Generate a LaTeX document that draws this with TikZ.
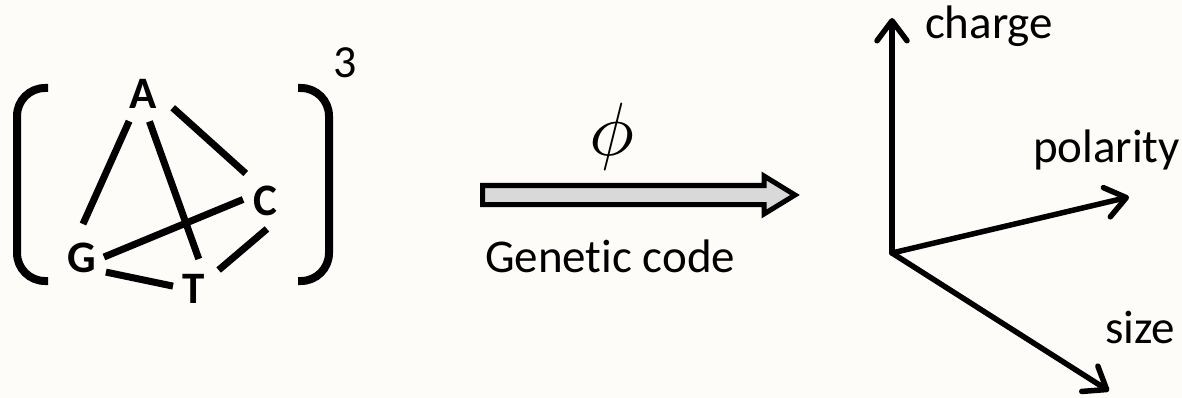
\documentclass[tikz,border=0pt]{standalone}
\usepackage{graphicx}
\usepackage{fontspec}
\setmainfont{Carlito}[Ligatures={NoCommon,NoRare,NoContextual}]
\usetikzlibrary{arrows.meta,calc}
\definecolor{bg}{RGB}{254,252,248}
\definecolor{arrowfill}{RGB}{217,217,217}
\begin{document}
\begin{tikzpicture}[x=1pt,y=1pt,
  lbl/.style={font=\fontsize{47}{56}\selectfont, inner sep=0pt, outer sep=0pt},
  letter/.style={font=\fontsize{45}{52}\selectfont\bfseries, inner sep=0pt},
  edge/.style={line width=7pt},
  bracket/.style={line width=8pt, rounded corners=28pt},
  axis/.style={line width=5.5pt, line cap=round, -{Straight Barb[round,length=20pt,width=30pt]}}]
\fill[bg] (0,0) rectangle (1182,-398);
\useasboundingbox (0,0) rectangle (1182,-398);
% graph
\node[letter] (A) at (143.5,-93.5) {A};
\node[letter] (C) at (265,-201) {C};
\node[letter] (G) at (81.5,-258) {G};
\node[letter] (T) at (193.5,-289) {T};
\draw[edge] ($(A)+(242.5:31.2)$) -- ($(G)+(87.5:34)$);
\draw[edge] ($(A)+(282:28.6)$) -- ($(T)+(80:30.5)$);
\draw[edge] ($(A)+(334:32.5)$) -- ($(C)+(125:33.6)$);
\draw[edge] ($(G)+(2.5:22.5)$) -- ($(C)+(176:22)$);
\draw[edge] ($(G)+(330:28.2)$) -- ($(T)+(172:20.7)$);
\draw[edge] ($(C)+(274:28)$) -- ($(T)+(37:31.5)$);
% brackets
\draw[bracket] (48,-88) -- (17,-88) -- (17,-281) -- (48,-281);
\draw[bracket] (298,-88) -- (329,-88) -- (329,-281) -- (298,-281);
\node[font=\fontsize{46}{54}\selectfont, inner sep=0pt] (three) at (345,-62.5) {3};
% block arrow
\draw[line width=5pt, fill=arrowfill, line join=miter]
  (482.5,-185.5) -- (764,-185.5) -- (764,-176) -- (795,-195) -- (764,-214)
  -- (764,-204.5) -- (482.5,-204.5) -- cycle;
\node[inner sep=0pt] (phi) at (612,-136.5) {\resizebox*{!}{67pt}{$\phi$}};
\node[lbl, anchor=base west] (gc) at (485,-272) {Genetic code};
% axes
\coordinate (O) at (892,-253);
\coordinate (zc) at (892,-18);
\coordinate (pc) at (1129,-197);
\coordinate (sc) at (1109,-391);
\draw[axis] (O) -- (zc);
\draw[axis] (O) -- (pc);
\draw[axis] (O) -- (sc);
\node[lbl, anchor=base west] (charge) at (925,-39) {charge};
\node[lbl, anchor=base west] (polarity) at (1033,-163) {polarity};
\node[lbl, anchor=base west] (size) at (1105,-343) {size};
\end{tikzpicture}
\end{document}
